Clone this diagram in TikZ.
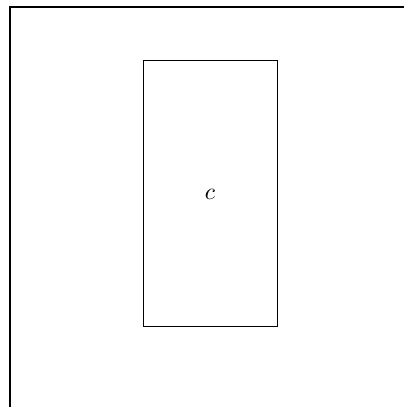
\documentclass[tikz,border=0pt]{standalone}
\usepackage{amsmath}
\usepackage{tikz}
\usetikzlibrary{positioning}

\begin{document}
\begin{tikzpicture}[
    frameline/.style={draw, thick},
    box/.style={rectangle, draw, minimum width=2cm, minimum height=3.97cm}
]
    % Page
    \useasboundingbox (0, 0) rectangle (6.03, 6.075);
    \coordinate (corner) at (0.15, 5.975);
    \coordinate (bottom) at (0.15, 0);
    \coordinate (right) at (6.03, 5.975);

    % Frame
    \draw[frameline] (bottom) -- (corner) -- (right);

    % Box
    \node[box] (cbox) at (3.134, 3.18) {$c$};
\end{tikzpicture}
\end{document}
